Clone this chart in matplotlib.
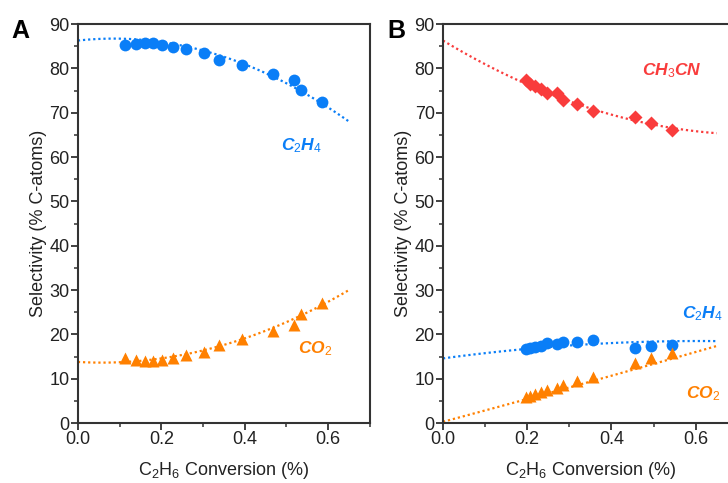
import numpy as np
import matplotlib
matplotlib.use("Agg")
import matplotlib.pyplot as plt
from matplotlib.ticker import MultipleLocator

plt.rcParams['font.family'] = ['Liberation Sans', 'DejaVu Sans']
plt.rcParams['mathtext.fontset'] = 'custom'
plt.rcParams['mathtext.rm'] = 'Liberation Sans'
plt.rcParams['mathtext.it'] = 'Liberation Sans:italic:bold'
plt.rcParams['mathtext.bf'] = 'Liberation Sans:bold'
plt.rcParams['mathtext.default'] = 'it'

# panel A data
conv_a = [0.112, 0.140, 0.160, 0.180, 0.202, 0.228, 0.260, 0.303, 0.339, 0.393, 0.468, 0.517, 0.535, 0.586]
c2h4_a = [85.3, 85.5, 85.7, 85.7, 85.4, 84.9, 84.3, 83.6, 82.0, 80.8, 78.8, 77.4, 75.2, 72.5]
co2_a = [14.6, 14.2, 14.0, 14.0, 14.2, 14.6, 15.3, 16.1, 17.6, 18.9, 20.8, 22.1, 24.6, 27.1]

# panel B data
conv_b = [0.197, 0.206, 0.218, 0.233, 0.247, 0.270, 0.286, 0.317, 0.356, 0.456, 0.493, 0.544]
ch3cn_b = [77.5, 76.6, 76.0, 75.3, 74.5, 74.4, 72.9, 72.0, 70.5, 69.1, 67.7, 66.1]
c2h4_b = [16.8, 17.0, 17.2, 17.5, 18.0, 17.8, 18.3, 18.4, 18.8, 17.0, 17.3, 17.6]
co2_b = [5.8, 6.2, 6.6, 7.1, 7.5, 7.9, 8.6, 9.5, 10.4, 13.5, 14.6, 15.9]

# trend lines (quadratic through points)
trend_x_a = [0.0, 0.393, 0.646]
trend_c2h4_a = [86.3, 81.2, 68.3]
trend_co2_a = [13.8, 18.9, 29.8]
trend_x_b = [0.0, 0.35, 0.65]
trend_ch3cn_b = [86.3, 71.0, 65.4]
trend_xb2 = [0.0, 0.183, 0.65]
trend_c2h4_b = [14.6, 16.6, 18.5]
trend_co2_b = [0.3, 5.0, 17.4]

blue = '#0A7EF7'
orange = '#FF8000'
red = '#F93C3C'
dark = '#333333'

fig = plt.figure(figsize=(7.28, 4.83), dpi=100)
ax_a = fig.add_axes([0.107, 0.124, 0.401, 0.826])
ax_b = fig.add_axes([0.6085, 0.124, 0.405, 0.826])


def trend(ax, xs, ys, color):
    coef = np.polyfit(xs, ys, 2)
    xx = np.linspace(0, 0.65, 120)
    ax.plot(xx, np.polyval(coef, xx), color=color, lw=1.6, ls=(0, (1, 1.3)), zorder=2)


def style(ax):
    ax.set_xlim(0, 0.7)
    ax.set_ylim(0, 90)
    ax.xaxis.set_major_locator(MultipleLocator(0.2))
    ax.xaxis.set_minor_locator(MultipleLocator(0.1))
    ax.yaxis.set_major_locator(MultipleLocator(10))
    ax.yaxis.set_minor_locator(MultipleLocator(5))
    ax.xaxis.set_major_formatter(matplotlib.ticker.FormatStrFormatter('%.1f'))
    for s in ax.spines.values():
        s.set_linewidth(1.5)
        s.set_color(dark)
    ax.tick_params(which='major', direction='out', length=5, width=1.3, colors=dark,
                   labelsize=13, labelcolor='#222222', pad=1)
    ax.tick_params(which='minor', direction='out', length=3, width=1.1, colors=dark)
    ax.set_ylabel('Selectivity (% C-atoms)', fontsize=13, color='#222222', labelpad=2)
    ax.set_xlabel(r'C$\mathregular{_2}$H$\mathregular{_6}$ Conversion (%)', fontsize=13,
                  color='#222222', labelpad=8)


# panel A
trend(ax_a, trend_x_a, trend_c2h4_a, blue)
trend(ax_a, trend_x_a, trend_co2_a, orange)
ax_a.plot(conv_a, c2h4_a, 'o', color=blue, ms=8.5, mec='none', zorder=3)
ax_a.plot(conv_a, co2_a, '^', color=orange, ms=9, mec='none', zorder=3)
ax_a.text(0.537, 62.7, '$C_2H_4$', color=blue, fontsize=12.5, ha='center', va='center')
ax_a.text(0.569, 16.7, '$CO_2$', color=orange, fontsize=12.5, ha='center', va='center')
style(ax_a)

# panel B
trend(ax_b, trend_x_b, trend_ch3cn_b, red)
trend(ax_b, trend_xb2, trend_c2h4_b, blue)
trend(ax_b, trend_xb2, trend_co2_b, orange)
ax_b.plot(conv_b, ch3cn_b, 'D', color=red, ms=7.5, mec='none', zorder=3)
ax_b.plot(conv_b, c2h4_b, 'o', color=blue, ms=8.5, mec='none', zorder=3)
ax_b.plot(conv_b, co2_b, '^', color=orange, ms=9, mec='none', zorder=3)
ax_b.text(0.543, 79.4, '$CH_3CN$', color=red, fontsize=12.5, ha='center', va='center')
ax_b.text(0.615, 24.7, '$C_2H_4$', color=blue, fontsize=12.5, ha='center', va='center')
ax_b.text(0.617, 6.7, '$CO_2$', color=orange, fontsize=12.5, ha='center', va='center')
style(ax_b)

fig.text(0.028, 0.935, 'A', fontsize=18, fontweight='bold', ha='center', va='center')
fig.text(0.545, 0.935, 'B', fontsize=18, fontweight='bold', ha='center', va='center')

fig.savefig('out.png', dpi=100)
